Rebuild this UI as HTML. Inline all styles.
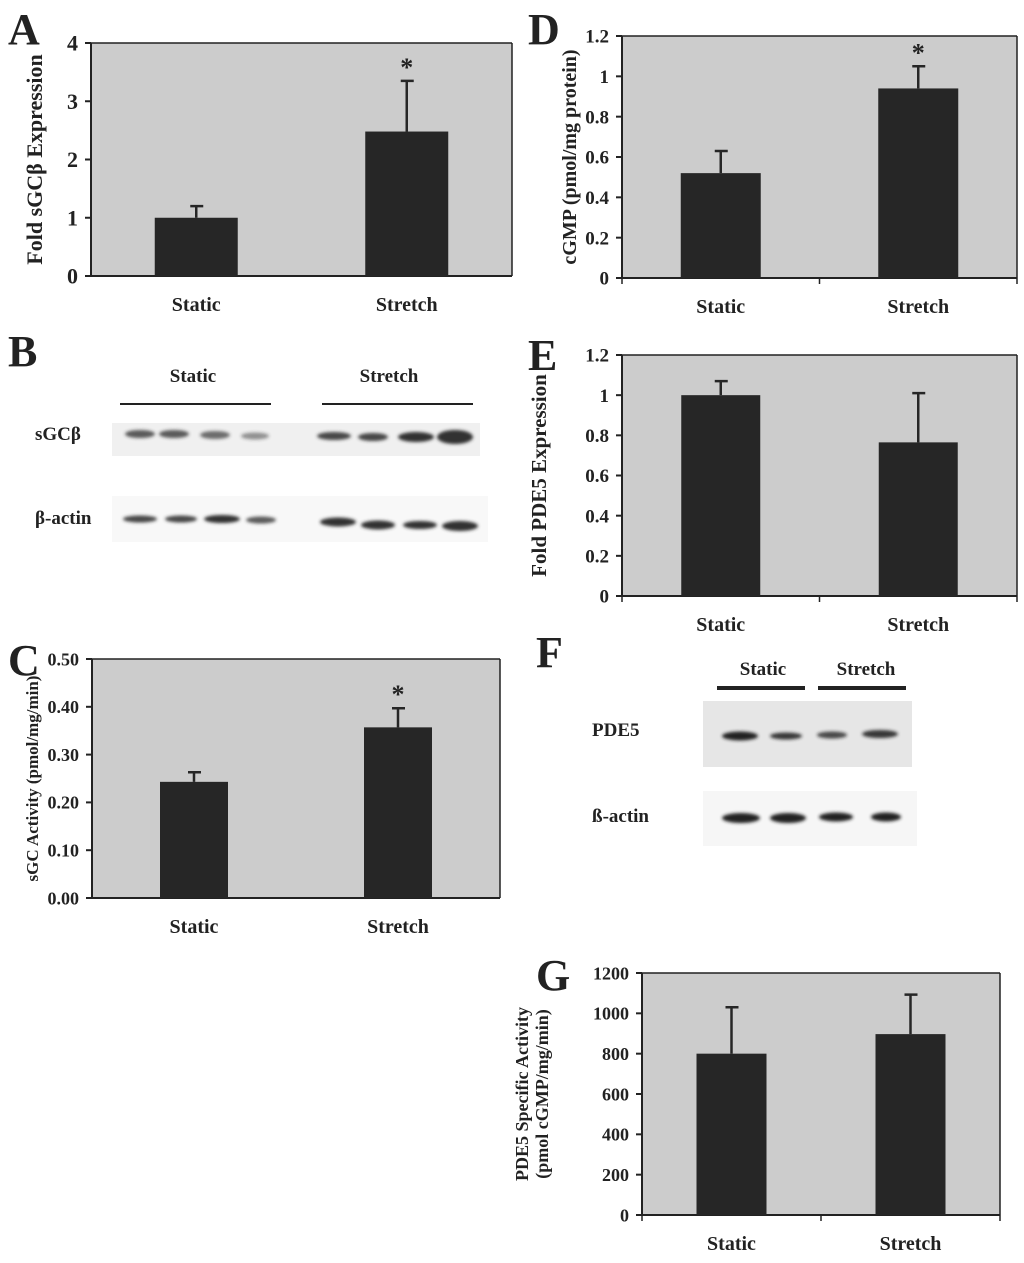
<!DOCTYPE html>
<html><head><meta charset="utf-8"><style>
html,body{margin:0;padding:0;background:#fff;}
svg{display:block;font-family:"Liberation Serif",serif;font-weight:bold;}
</style></head><body>
<svg id="fig" width="1024" height="1263" viewBox="0 0 1024 1263" xmlns="http://www.w3.org/2000/svg">
<defs><filter id="blur" x="-20%" y="-50%" width="140%" height="200%"><feGaussianBlur stdDeviation="1.6"/></filter></defs>
<g id="letters" font-size="44" fill="#222">
<text x="8" y="44">A</text>
<text x="8" y="366">B</text>
<text x="8" y="675">C</text>
<text x="528" y="44">D</text>
<text x="528" y="370">E</text>
<text x="536" y="667">F</text>
<text x="536" y="990">G</text>
</g>
<g>
<text x="193" y="382" font-size="19" text-anchor="middle" fill="#222">Static</text>
<text x="389" y="382" font-size="19" text-anchor="middle" fill="#222">Stretch</text>
<rect x="120" y="403" width="151" height="2" fill="#222"/>
<rect x="322" y="403" width="151" height="2" fill="#222"/>
<text x="35" y="440" font-size="19" fill="#222">sGCβ</text>
<text x="35" y="524" font-size="19" fill="#222">β-actin</text>
<rect x="112" y="423" width="368" height="33" fill="#f0f0f0"/>
<rect x="112" y="496" width="376" height="46" fill="#f8f8f8"/>
<g filter="url(#blur)" fill="#333">
<ellipse cx="140" cy="434" rx="15" ry="4" opacity="0.8"/>
<ellipse cx="174" cy="434" rx="15" ry="4" opacity="0.8"/>
<ellipse cx="215" cy="435" rx="15" ry="4" opacity="0.7"/>
<ellipse cx="255" cy="436" rx="14" ry="3.5" opacity="0.5"/>
<ellipse cx="334" cy="436" rx="17" ry="4" opacity="0.9"/>
<ellipse cx="373" cy="437" rx="15" ry="4" opacity="0.9"/>
<ellipse cx="416" cy="437" rx="18" ry="5" opacity="1"/>
<ellipse cx="455" cy="437" rx="18" ry="7" opacity="1"/>
<ellipse cx="140" cy="519" rx="17" ry="3.5" opacity="0.9"/>
<ellipse cx="181" cy="519" rx="16" ry="3.5" opacity="0.9"/>
<ellipse cx="222" cy="519" rx="18" ry="4" opacity="1"/>
<ellipse cx="261" cy="520" rx="15" ry="3.5" opacity="0.8"/>
<ellipse cx="338" cy="522" rx="18" ry="4.5" opacity="1"/>
<ellipse cx="378" cy="525" rx="17" ry="4.5" opacity="1"/>
<ellipse cx="420" cy="525" rx="17" ry="4" opacity="1"/>
<ellipse cx="460" cy="526" rx="18" ry="5" opacity="1"/>
</g>
</g>
<g>
<text x="763" y="675" font-size="19" text-anchor="middle" fill="#222">Static</text>
<text x="866" y="675" font-size="19" text-anchor="middle" fill="#222">Stretch</text>
<rect x="717" y="686" width="88" height="4" fill="#222"/>
<rect x="818" y="686" width="88" height="4" fill="#222"/>
<text x="592" y="736" font-size="19" fill="#222">PDE5</text>
<text x="592" y="822" font-size="19" fill="#222">ß-actin</text>
<rect x="703" y="701" width="209" height="66" fill="#e6e6e6"/>
<rect x="703" y="791" width="214" height="55" fill="#f6f6f6"/>
<g filter="url(#blur)" fill="#222">
<ellipse cx="740" cy="736" rx="18" ry="4.5"/>
<ellipse cx="786" cy="736" rx="16" ry="3.5" opacity="0.9"/>
<ellipse cx="832" cy="735" rx="15" ry="3.5" opacity="0.8"/>
<ellipse cx="880" cy="734" rx="18" ry="4" opacity="0.9"/>
<ellipse cx="741" cy="818" rx="19" ry="5"/>
<ellipse cx="788" cy="818" rx="18" ry="5"/>
<ellipse cx="836" cy="817" rx="17" ry="4.5"/>
<ellipse cx="886" cy="817" rx="15" ry="4.5"/>
</g>
</g>
<g id="charts"></g>
</svg>
<script>
const categories = ["Static", "Stretch"];
const valuesA = [1.0, 2.48];
const errorsA = [1.2, 3.35];
const ticksA = ["0", "1", "2", "3", "4"];
const valuesC = [0.243, 0.357];
const errorsC = [0.263, 0.397];
const ticksC = ["0.00", "0.10", "0.20", "0.30", "0.40", "0.50"];
const valuesD = [0.52, 0.94];
const errorsD = [0.63, 1.05];
const ticksD = ["0", "0.2", "0.4", "0.6", "0.8", "1", "1.2"];
const valuesE = [1.0, 0.765];
const errorsE = [1.07, 1.01];
const ticksE = ["0", "0.2", "0.4", "0.6", "0.8", "1", "1.2"];
const valuesG = [800, 897];
const errorsG = [1030, 1093];
const ticksG = ["0", "200", "400", "600", "800", "1000", "1200"];
const starsA = [false, true];
const starsC = [false, true];
const starsD = [false, true];
const starsE = [false, false];
const starsG = [false, false];

const NS = "http://www.w3.org/2000/svg";
const root = document.getElementById("charts");
function mk(tag, attrs, parent) {
  const e = document.createElementNS(NS, tag);
  for (const k in attrs) e.setAttribute(k, attrs[k]);
  (parent || root).appendChild(e);
  return e;
}
function chart(id, box, values, errors, ticks, stars, title, xTicks) {
  const g = mk("g", {});
  
  
  const max = parseFloat(ticks[ticks.length - 1]);
  const y = v => box.y1 - (v / max) * (box.y1 - box.y0);
  const bg = mk("rect", {x: box.x0, y: box.y0, width: box.x1 - box.x0, height: box.y1 - box.y0, fill: "#cccccc"}, g);
  
  
  mk("line", {x1: box.x0, y1: box.y0, x2: box.x1, y2: box.y0, stroke: "#222", "stroke-width": 1.5}, g);
  mk("line", {x1: box.x1, y1: box.y0, x2: box.x1, y2: box.y1, stroke: "#222", "stroke-width": 1.5}, g);
  mk("line", {x1: box.x0, y1: box.y0, x2: box.x0, y2: box.y1, stroke: "#222", "stroke-width": 2}, g);
  mk("line", {x1: box.x0 - 6, y1: box.y1, x2: box.x1, y2: box.y1, stroke: "#222", "stroke-width": 2}, g);
  ticks.forEach(t => {
    const ty = y(parseFloat(t));
    mk("line", {x1: box.x0 - 6, y1: ty, x2: box.x0, y2: ty, stroke: "#222", "stroke-width": 2}, g);
    const tx = mk("text", {x: box.x0 - 13, y: ty + box.tf * 0.35, "font-size": box.tf, "text-anchor": "end", fill: "#222"}, g);
    tx.textContent = t;
    
    
  });
  const n = categories.length;
  const slot = (box.x1 - box.x0) / n;
  if (xTicks) for (let i = 0; i <= n; i++) {
    const xx = box.x0 + slot * i;
    mk("line", {x1: xx, y1: box.y1, x2: xx, y2: box.y1 + 6, stroke: "#222", "stroke-width": 1.5}, g);
  }
  categories.forEach((c, i) => {
    const cx = box.x0 + slot * (i + 0.5);
    const bw = box.bw;
    const bar = mk("rect", {x: cx - bw / 2, y: y(values[i]), width: bw, height: box.y1 - y(values[i]), fill: "#262626"}, g);
    
    
    const eb = mk("path", {d: `M${cx} ${y(values[i])}V${y(errors[i])}M${cx - 6} ${y(errors[i])}H${cx + 7}`, stroke: "#262626", "stroke-width": 2.5, fill: "none"}, g);
    
    
    if (stars[i]) {
      const st = mk("text", {x: cx, y: y(errors[i]) - 5, "font-size": 26, "text-anchor": "middle", fill: "#222"}, g);
      st.textContent = "*";
      
      
    }
    const lab = mk("text", {x: cx, y: box.y1 + 35, "font-size": 20, "text-anchor": "middle", fill: "#222"}, g);
    lab.textContent = c;
    
    
  });
  title.forEach((line, k) => {
    const tx0 = box.tx + k * 20;
    const ty0 = (box.y0 + box.y1) / 2;
    const t = mk("text", {x: tx0, y: ty0, "font-size": box.ttf, "text-anchor": "middle", fill: "#222", transform: `rotate(-90 ${tx0} ${ty0})`}, g);
    t.textContent = line;
    
    
  });
}
chart("a", {x0: 91, x1: 512, y0: 43, y1: 276, bw: 83, tx: 42, tf: 22, ttf: 22}, valuesA, errorsA, ticksA, starsA, ["Fold sGCβ Expression"], false);
chart("c", {x0: 92, x1: 500, y0: 659, y1: 898, bw: 68, tx: 38, tf: 18, ttf: 17}, valuesC, errorsC, ticksC, starsC, ["sGC Activity (pmol/mg/min)"], false);
chart("d", {x0: 622, x1: 1017, y0: 36, y1: 278, bw: 80, tx: 576, tf: 19, ttf: 20}, valuesD, errorsD, ticksD, starsD, ["cGMP (pmol/mg protein)"], true);
chart("e", {x0: 622, x1: 1017, y0: 355, y1: 596, bw: 79, tx: 546, tf: 19, ttf: 21}, valuesE, errorsE, ticksE, starsE, ["Fold PDE5 Expression"], true);
chart("g", {x0: 642, x1: 1000, y0: 973, y1: 1215, bw: 70, tx: 528, tf: 18, ttf: 18}, valuesG, errorsG, ticksG, starsG, ["PDE5 Specific Activity", "(pmol cGMP/mg/min)"], true);
</script>
</body></html>
